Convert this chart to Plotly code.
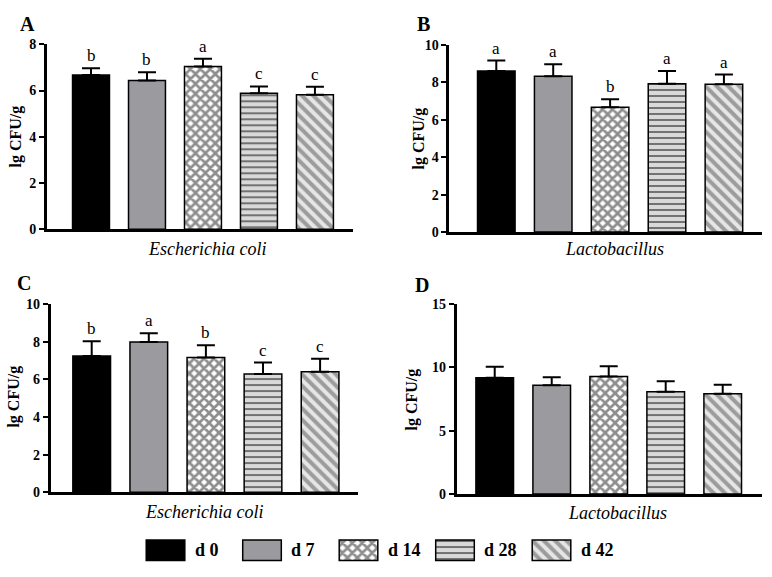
import plotly.graph_objects as go

# ---------------- data ----------------
days = ["d 0", "d 7", "d 14", "d 28", "d 42"]

a_mean = [6.67, 6.44, 7.04, 5.88, 5.82]
a_err = [0.30, 0.35, 0.33, 0.30, 0.35]
a_letters = ["b", "b", "a", "c", "c"]

b_mean = [8.61, 8.33, 6.67, 7.93, 7.90]
b_err = [0.56, 0.64, 0.43, 0.68, 0.52]
b_letters = ["a", "a", "b", "a", "a"]

c_mean = [7.24, 7.98, 7.16, 6.29, 6.41]
c_err = [0.78, 0.47, 0.65, 0.60, 0.69]
c_letters = ["b", "a", "b", "c", "c"]

d_mean = [9.18, 8.59, 9.28, 8.08, 7.92]
d_err = [0.87, 0.64, 0.80, 0.82, 0.70]
d_letters = ["", "", "", "", ""]

panel_labels = ["A", "B", "C", "D"]
bacteria = ["Escherichia coli", "Lactobacillus", "Escherichia coli", "Lactobacillus"]
y_title = "lg CFU/g"

# ---------------- styles ----------------
SERIF = "Liberation Serif"
W, H = 772, 577

fill_colors = ["#000000", "#9b9b9f", "#ffffff", "#d9d9d9", "#e6e6e6"]
pat_shapes = ["", "", "x", "-", "\\"]
pat_fg = ["#000000", "#9b9b9f", "#8e8e8e", "#5e5e5e", "#9c9c9c"]
pat_size = [8, 8, 7, 6, 8]
pat_solid = [0.5, 0.5, 0.62, 0.28, 0.5]


def px_x(v):
    return v / W


def px_y(v):
    return 1 - v / H


def marker_for(j):
    m = dict(color=fill_colors[j], line=dict(color="black", width=1.5))
    if pat_shapes[j]:
        m["pattern"] = dict(shape=pat_shapes[j], fgcolor=pat_fg[j], fgopacity=1,
                            size=pat_size[j], solidity=pat_solid[j], fillmode="overlay")
    return m


panels = [
    dict(xl=47, xr=353, yb=228.3, yt=38.3, xrng=[-0.786, 4.68], yrng=[0, 8], dtick=2,
         mean=a_mean, err=a_err, letters=a_letters,
         lab=(27, 17), ytit=(16, 133), xlab=(207, 248)),
    dict(xl=449.3, xr=761.7, yb=231, yt=39, xrng=[-0.826, 4.664], yrng=[0, 10], dtick=2,
         mean=b_mean, err=b_err, letters=b_letters,
         lab=(424, 17), ytit=(419, 135), xlab=(614, 248)),
    dict(xl=50.7, xr=358, yb=498.3, yt=305, xrng=[-0.718, 4.664], yrng=[0, 10], dtick=2,
         mean=c_mean, err=c_err, letters=c_letters,
         lab=(24, 283), ytit=(14, 400), xlab=(204, 518)),
    dict(xl=456.7, xr=761.7, yb=500, yt=305, xrng=[-0.667, 4.684], yrng=[0, 15], dtick=5,
         mean=d_mean, err=d_err, letters=d_letters,
         lab=(422, 285), ytit=(412, 403), xlab=(617, 519)),
]

fig = go.Figure()
annotations = []
layout_axes = {}

for i, p in enumerate(panels, start=1):
    xa = "x" if i == 1 else f"x{i}"
    ya = "y" if i == 1 else f"y{i}"
    for j, d in enumerate(days):
        fig.add_trace(go.Bar(
            x=[d], y=[p["mean"][j]], xaxis=xa, yaxis=ya, width=0.66,
            marker=marker_for(j),
            error_y=dict(type="data", symmetric=False, array=[p["err"][j]],
                         arrayminus=[0], color="black", thickness=2, width=9),
            showlegend=False, hoverinfo="skip", name=d,
        ))
    xkey = "xaxis" if i == 1 else f"xaxis{i}"
    ykey = "yaxis" if i == 1 else f"yaxis{i}"
    layout_axes[xkey] = dict(
        domain=[px_x(p["xl"]), px_x(p["xr"])], anchor=ya, range=p["xrng"],
        type="category", categoryorder="array", categoryarray=days,
        showline=True, linecolor="black", linewidth=2.75,
        showticklabels=False, ticks="", showgrid=False, zeroline=False, fixedrange=True,
    )
    layout_axes[ykey] = dict(
        domain=[px_y(p["yb"]), px_y(p["yt"])], anchor=xa, range=p["yrng"],
        dtick=p["dtick"], tick0=0, showline=True, linecolor="black", linewidth=2.75,
        ticks="outside", ticklen=5, tickwidth=2, tickcolor="black",
        tickfont=dict(family=SERIF, size=14, color="black", weight="bold"),
        showgrid=False, zeroline=False, fixedrange=True,
    )
    for d, m, e, L in zip(days, p["mean"], p["err"], p["letters"]):
        if L:
            annotations.append(dict(
                x=d, y=m + e, xref=xa, yref=ya, text=L, showarrow=False,
                yanchor="bottom", yshift=1,
                font=dict(family=SERIF, size=17, color="black"),
            ))
    annotations.append(dict(
        x=px_x(p["lab"][0]), y=px_y(p["lab"][1]), xref="paper", yref="paper",
        text=f"<b>{panel_labels[i-1]}</b>", showarrow=False,
        xanchor="center", yanchor="middle",
        font=dict(family=SERIF, size=20, color="black"),
    ))
    annotations.append(dict(
        x=px_x(p["ytit"][0]), y=px_y(p["ytit"][1]), xref="paper", yref="paper",
        text=f"<b>{y_title}</b>", showarrow=False, textangle=-90,
        xanchor="center", yanchor="middle",
        font=dict(family=SERIF, size=16, color="black"),
    ))
    annotations.append(dict(
        x=px_x(p["xlab"][0]), y=px_y(p["xlab"][1]), xref="paper", yref="paper",
        text=f"<i>{bacteria[i-1]}</i>", showarrow=False,
        xanchor="center", yanchor="middle",
        font=dict(family=SERIF, size=18, color="black", style="italic"),
    ))

# ---------------- legend (custom key row) ----------------
for j, d in enumerate(days):
    fig.add_trace(go.Bar(
        x=[d], y=[1], xaxis="x5", yaxis="y5", width=0.4,
        marker=marker_for(j), showlegend=False, hoverinfo="skip", name=d,
    ))
layout_axes["xaxis5"] = dict(
    domain=[px_x(100), px_x(700)], anchor="y5", range=[-0.679, 5.539],
    type="category", categoryorder="array", categoryarray=days,
    visible=False, fixedrange=True,
)
layout_axes["yaxis5"] = dict(
    domain=[px_y(570.4), px_y(545.2)], anchor="x5", range=[-0.1, 1.1],
    visible=False, fixedrange=True,
)
for d in days:
    annotations.append(dict(
        x=d, y=0.5, xref="x5", yref="y5", text=f"<b>{d}</b>", showarrow=False,
        xanchor="left", yanchor="middle", xshift=27,
        font=dict(family=SERIF, size=18, color="black"),
    ))

fig.update_layout(
    width=W, height=H, margin=dict(l=0, r=0, t=0, b=0),
    paper_bgcolor="white", plot_bgcolor="white",
    barmode="overlay", annotations=annotations, **layout_axes,
)

fig.write_html("out.html")
